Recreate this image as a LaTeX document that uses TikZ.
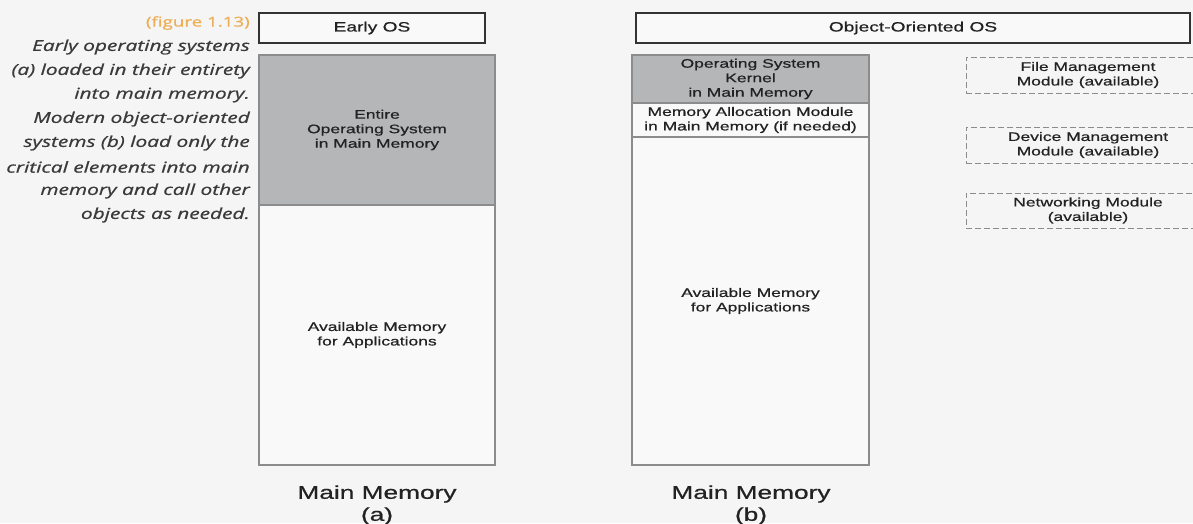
\documentclass[tikz,border=0pt]{standalone}
\usepackage{fontspec}
\setmainfont{Liberation Sans}
% wide sans for the diagram labels, wide humanist italic for the caption
\newfontfamily\boxfont[FakeStretch=1.42,FakeBold=0.7]{Liberation Sans}
\newfontfamily\capfont[FakeStretch=1.39,FakeBold=0.8]{Open Sans}

\definecolor{pagebg}{HTML}{F5F5F5}
\definecolor{cellfill}{HTML}{F9F9F9}
\definecolor{osgrey}{HTML}{B4B6B8}
\definecolor{memline}{HTML}{8C8C8C}
\definecolor{titleline}{HTML}{333333}
\definecolor{ink}{HTML}{222222}
\definecolor{capink}{HTML}{3A3A3A}
\definecolor{figorange}{HTML}{EDAE55}

\tikzset{
  titlebox/.style={draw=titleline, line width=2pt, fill=cellfill,
    minimum height=30pt, inner sep=0pt, text=ink,
    font=\boxfont\fontsize{13.5}{16}\selectfont},
  memcell/.style={draw=memline, line width=1.2pt, inner sep=0pt,
    align=center, text=ink,
    font=\boxfont\fontsize{12.3}{14.5}\selectfont},
  module/.style={draw=memline, line width=0.9pt, dash pattern=on 6pt off 3pt,
    inner sep=0pt, align=center, text=ink, minimum width=244pt,
    font=\boxfont\fontsize{12.3}{14.5}\selectfont},
  captext/.style={anchor=east, inner sep=0pt, text=capink,
    font=\capfont\itshape\fontsize{15}{18}\selectfont},
  memlabel/.style={align=center, inner sep=0pt, text=ink,
    font=\boxfont\fontsize{18.5}{22}\selectfont}
}

\begin{document}
\begin{tikzpicture}[x=1pt,y=-1pt]
\useasboundingbox (0,0) rectangle (1193,523);
\fill[pagebg] (0,0) rectangle (1193,523);

% caption
\node[anchor=east, inner sep=0pt, text=figorange,
      font=\capfont\fontsize{13.5}{15}\selectfont] (fig) at (250,23) {(figure 1.13)};
\node[captext] (c1) at (250,47)  {Early operating systems};
\node[captext] (c2) at (250,71)  {(a) loaded in their entirety};
\node[captext] (c3) at (250,95)  {into main memory.};
\node[captext] (c4) at (250,119) {Modern object-oriented};
\node[captext] (c5) at (250,143) {systems (b) load only the};
\node[captext] (c6) at (250,167) {critical elements into main};
\node[captext] (c7) at (250,191) {memory and call other};
\node[captext] (c8) at (250,215) {objects as needed.};

% headings
\node[titlebox, minimum width=226pt] (early) at (372,28) {Early OS};
\node[titlebox, minimum width=554pt] (oo) at (913,28) {Object-Oriented OS};

% main memory (a)
\node[memcell, fill=osgrey, minimum width=236pt, minimum height=150pt] (entire) at (377,130)
  {Entire\\Operating System\\in Main Memory};
\node[memcell, fill=cellfill, minimum width=236pt, minimum height=260pt] (availA) at (377,335)
  {Available Memory\\for Applications};

% main memory (b)
\node[memcell, fill=osgrey, minimum width=237pt, minimum height=48pt] (kernel) at (750.5,79)
  {Operating System\\Kernel\\in Main Memory};
\node[memcell, fill=cellfill, minimum width=237pt, minimum height=34pt] (alloc) at (750.5,120)
  {Memory Allocation Module\\in Main Memory (if needed)};
\node[memcell, fill=cellfill, minimum width=237pt, minimum height=328pt] (availB) at (750.5,301)
  {Available Memory\\for Applications};

% modules loaded on demand
\node[module, minimum height=36pt] (fileM) at (1088,75) {File Management\\Module (available)};
\node[module, minimum height=36pt] (devM) at (1088,145) {Device Management\\Module (available)};
\node[module, minimum height=35pt] (netM) at (1088,210.5) {Networking Module\\(available)};

% captions under the columns
\node[memlabel] (labA) at (377,505) {Main Memory\\(a)};
\node[memlabel] (labB) at (751,505) {Main Memory\\(b)};
\end{tikzpicture}
\end{document}
